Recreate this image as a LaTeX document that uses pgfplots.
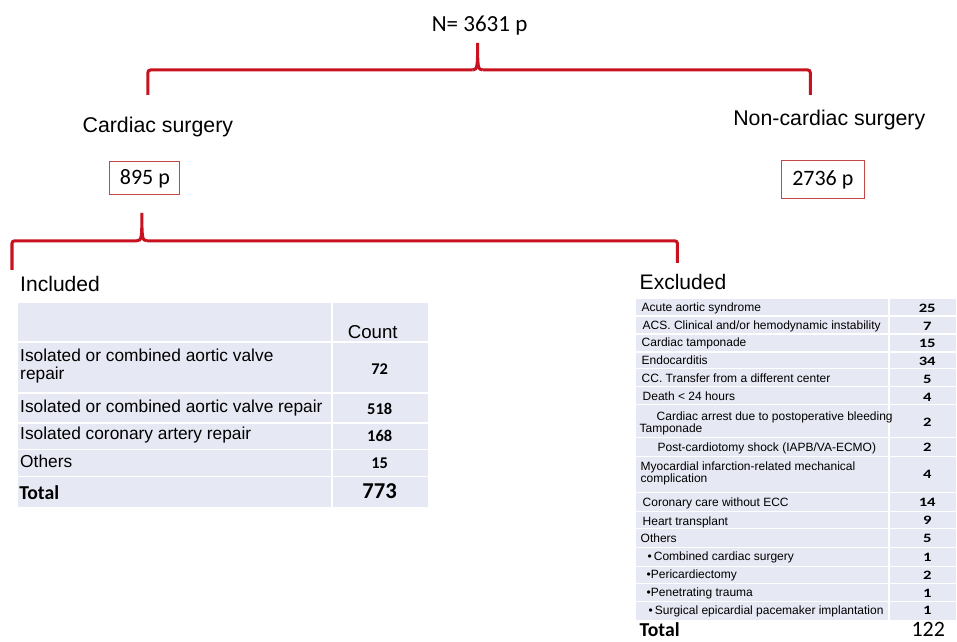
\documentclass[border=0pt]{standalone}
\usepackage{fontspec}
\setmainfont{Liberation Sans}
\newfontfamily\carl{Carlito}
\newfontfamily\carlw[FakeStretch=1.3]{Carlito}
\usepackage{pgfplots}
\pgfplotsset{compat=1.18}
\usepackage{pgfplotstable}
\definecolor{bred}{RGB}{200,18,32}
\definecolor{boxred}{RGB}{196,70,70}
\definecolor{lav}{RGB}{230,232,243}
\newcommand\fs[1]{\fontsize{#1pt}{#1pt}\selectfont}

% counts of the "Included" table: x (px), y (px), value
\pgfplotstableread{
x y v
380 369 72
380 409 518
380 436 168
380 464 15
}\incl
% counts of the "Excluded" table
\pgfplotstableread{
x y v
928 309 25
928 327 7
928 344 15
928 362 34
928 380 5
928 398 4
928 423 2
928 448 2
928 475 4
928 503 14
928 521 9
928 539 5
928 558 1
928 576 2
928 594 1
928 611 1
}\excl

\begin{document}
\begin{tikzpicture}
\begin{axis}[
  scale only axis, width=717.75pt, height=481.5pt,
  xmin=0, xmax=957, ymin=0, ymax=642, y dir=reverse,
  hide axis, clip=false]
\path (0,0) rectangle (957,642);

% ---- braces
\draw[bred, line width=2.3pt, rounded corners=2pt]
  (148,95) -- (148,70) -- (473,70);
\draw[bred, line width=2.3pt] (473,70) .. controls (478,70) and (478,66) .. (478,43)
  .. controls (478,66) and (478,70) .. (483,70);
\draw[bred, line width=2.3pt, rounded corners=2pt]
  (483,70) -- (811,70) -- (811,95);

\draw[bred, line width=2.3pt, rounded corners=2pt]
  (12,270) -- (12,241) -- (137,241);
\draw[bred, line width=2.3pt] (137,241) .. controls (142,241) and (142,237) .. (142,213)
  .. controls (142,237) and (142,241) .. (147,241);
\draw[bred, line width=2.3pt, rounded corners=2pt]
  (147,241) -- (678,241) -- (678,263);

% ---- top texts
\node[anchor=base, inner sep=0] at (480,32) {\carl\fs{17.3}N= 3631 p};
\node[anchor=base, inner sep=0] at (158,133) {\fs{16}Cardiac surgery};
\node[anchor=base, inner sep=0] at (830,126) {\fs{16}Non-cardiac surgery};
\draw[boxred, line width=0.8pt] (110,162) rectangle (180,195);
\draw[boxred, line width=0.8pt] (782,161) rectangle (865,199);
\node[anchor=center, inner sep=0] at (145,179) {\carl\fs{16.5}895 p};
\node[anchor=center, inner sep=0] at (823.5,180) {\carl\fs{16.5}2736 p};

\node[anchor=base west, inner sep=0] at (20,292) {\fs{15.8}Included};
\node[anchor=base west, inner sep=0] at (640,290) {\fs{15.8}Excluded};

% ---- Included table
\fill[lav] (18,303) rectangle (428,507);
\draw[white, line width=1.3pt] (332,303) -- (332,507)
  (18,342) -- (428,342) (18,393) -- (428,393) (18,423) -- (428,423)
  (18,450) -- (428,450) (18,477) -- (428,477);
\node[anchor=base, inner sep=0] at (373,339) {\fs{14}Count};
\node[anchor=base west, inner sep=0] at (20,362) {\fs{13}Isolated or combined aortic valve};
\node[anchor=base west, inner sep=0] at (20,380) {\fs{13}repair};
\node[anchor=base west, inner sep=0] at (20,413) {\fs{13}Isolated or combined aortic valve repair};
\node[anchor=base west, inner sep=0] at (20,440) {\fs{13}Isolated coronary artery repair};
\node[anchor=base west, inner sep=0] at (20,468) {\fs{13}Others};
\node[anchor=base west, inner sep=0] at (19,500) {\carl\bfseries\fs{14.8}Total};
\node[anchor=center, inner sep=0] at (380,492) {\carl\bfseries\fs{17}773};

\addplot[only marks, mark=*, mark size=0pt, mark options={draw=none,fill=none},
  nodes near coords, point meta=explicit symbolic,
  nodes near coords style={anchor=center, inner sep=0pt, font=\carl\bfseries\fs{12.3}}]
  table[x=x, y=y, meta=v] {\incl};

% ---- Excluded table
\fill[lav] (637,299) rectangle (957,621);
\draw[white, line width=1.2pt] (890,299) -- (890,621)
  (637,316) -- (957,316) (637,334) -- (957,334) (637,352) -- (957,352)
  (637,369) -- (957,369) (637,387) -- (957,387) (637,405) -- (957,405)
  (637,438) -- (957,438) (637,457) -- (957,457) (637,493) -- (957,493)
  (637,512) -- (957,512) (637,529) -- (957,529) (637,548) -- (957,548)
  (637,567) -- (957,567) (637,584) -- (957,584) (637,602) -- (957,602);
\node[anchor=base west, inner sep=0] at (642,312) {\fs{9}Acute aortic syndrome};
\node[anchor=base west, inner sep=0] at (643,330) {\fs{9}ACS. Clinical and/or hemodynamic instability};
\node[anchor=base west, inner sep=0] at (642,347) {\fs{9}Cardiac tamponade};
\node[anchor=base west, inner sep=0] at (642,365) {\fs{9}Endocarditis};
\node[anchor=base west, inner sep=0] at (642,383) {\fs{9}CC. Transfer from a different center};
\node[anchor=base west, inner sep=0] at (643,401) {\fs{9}Death < 24 hours};
\node[anchor=base west, inner sep=0] at (657,421) {\fs{9}Cardiac arrest due to postoperative bleeding};
\node[anchor=base west, inner sep=0] at (640,433) {\fs{9}Tamponade};
\node[anchor=base west, inner sep=0] at (658,452) {\fs{9}Post-cardiotomy shock (IAPB/VA-ECMO)};
\node[anchor=base west, inner sep=0] at (641,471) {\fs{9}Myocardial infarction-related mechanical};
\node[anchor=base west, inner sep=0] at (641,483) {\fs{9}complication};
\node[anchor=base west, inner sep=0] at (643,507) {\fs{9}Coronary care without ECC};
\node[anchor=base west, inner sep=0] at (643,526) {\fs{9}Heart transplant};
\node[anchor=base west, inner sep=0] at (641,543) {\fs{9}Others};
\node[anchor=base west, inner sep=0] at (648,561) {\fs{9}\textbullet\,Combined cardiac surgery};
\node[anchor=base west, inner sep=0] at (647,579) {\fs{9}\textbullet Pericardiectomy};
\node[anchor=base west, inner sep=0] at (647,597) {\fs{9}\textbullet Penetrating trauma};
\node[anchor=base west, inner sep=0] at (649,615) {\fs{9}\textbullet\,Surgical epicardial pacemaker implantation};
\node[anchor=base west, inner sep=0] at (640,637) {\carl\bfseries\fs{14.8}Total};
\node[anchor=base, inner sep=0] at (929,637) {\carl\fs{16.5}122};

\addplot[only marks, mark=*, mark size=0pt, mark options={draw=none,fill=none},
  nodes near coords, point meta=explicit symbolic,
  nodes near coords style={anchor=center, inner sep=0pt, font=\carlw\bfseries\fs{9.6}}]
  table[x=x, y=y, meta=v] {\excl};
\end{axis}
\end{tikzpicture}
\end{document}
